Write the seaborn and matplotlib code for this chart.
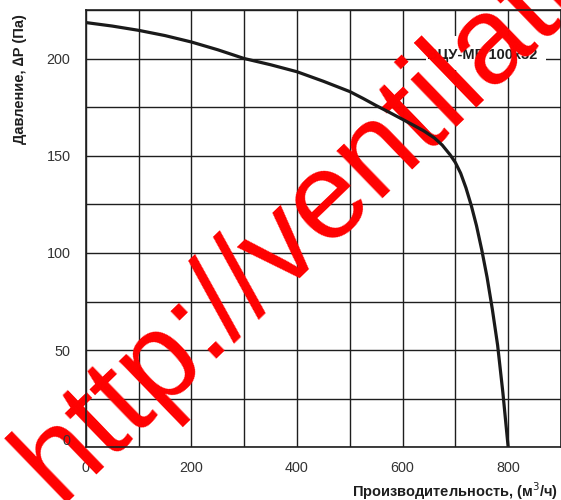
import numpy as np
import pandas as pd
import matplotlib
matplotlib.use("Agg")
import matplotlib.pyplot as plt
from matplotlib.patches import Rectangle
import seaborn as sns

# fan curve
flow = [0, 50, 100, 150, 200, 250, 300, 350, 400, 450, 500, 525, 550, 575, 600, 620,
        640, 660, 675, 690, 700, 710, 720, 730, 740, 750, 760, 770, 780, 790, 800]
pressure = [218.5, 216.7, 214.5, 211.8, 208.5, 204.5, 200, 196.8, 193.2, 188.3, 183,
            179.5, 175.8, 172.3, 168.7, 165.8, 162.8, 159.2, 155.5, 150.5, 146.5, 141,
            133.5, 124.5, 114, 101.5, 87.5, 71, 52.5, 28, 0]

x_ticks = [0, 200, 400, 600, 800]
y_ticks = [50, 100, 150, 200]
model_name = "ВЦУ-МЕ 100х32"
watermark = "http://ventilation"

df = pd.DataFrame({"Flow": flow, "Pressure": pressure})

sns.set_style("white")
plt.rcParams['font.family'] = ['Liberation Sans', 'DejaVu Sans']

ink = "#1e1e1e"
fig = plt.figure(figsize=(5.61, 5.0), dpi=100)
ax = fig.add_axes([0.1528, 0.1052, 0.8472, 0.875])

ax.set_xticks(np.arange(0, 901, 100), minor=True)
ax.set_yticks(np.arange(0, 226, 25), minor=True)
ax.grid(True, which="both", color=ink, linewidth=1.0)
ax.set_axisbelow(True)

sns.lineplot(data=df, x="Flow", y="Pressure", ax=ax, color="#1a1a1a", linewidth=2.3, zorder=2)

ax.set_xlim(0, 900)
ax.set_ylim(0, 225)
ax.set_xticks(x_ticks)
ax.set_yticks(y_ticks)
ax.tick_params(axis="x", which="major", length=3.5, width=1.0, color=ink, pad=6,
               labelsize=10.4, labelcolor="#333333")
ax.tick_params(axis="y", which="major", length=10, width=1.0, color=ink, pad=1,
               labelsize=10.4, labelcolor="#333333")
ax.tick_params(which="minor", length=0)
for s in ax.spines.values():
    s.set_color(ink)
    s.set_linewidth(1.2)

# the "0" on the y axis sits a bit above its line
ax.text(-29, 3.5, "0", ha="right", va="center", fontsize=10.4, color="#333333", zorder=3)

ax.set_xlabel("")
ax.set_ylabel("")
fig.text(0.995, 0.018, "Производительность, (м$^3$/ч)", ha="right", va="center",
         fontsize=10.5, fontweight="bold", color=ink)
fig.text(0.036, 0.842, "Давление, ∆P (Па)", ha="center", va="center", rotation=90,
         fontsize=10.5, fontweight="bold", color=ink)

# model name on a white patch that hides the grid
ax.add_patch(Rectangle((644, 194), 228, 17.5, facecolor="white", edgecolor="none", zorder=0.8))
ax.text(750, 202, model_name, ha="center", va="center", fontsize=10.5,
        fontweight="bold", color=ink, zorder=0.9)

# red watermark, between the grid and the curve
ax.text(0.104, -0.006, watermark, transform=fig.transFigure, rotation=44,
        rotation_mode="anchor", ha="left", va="baseline",
        fontsize=89, color="#ff0000", zorder=1, clip_on=False)

fig.savefig("out.png", dpi=100)
